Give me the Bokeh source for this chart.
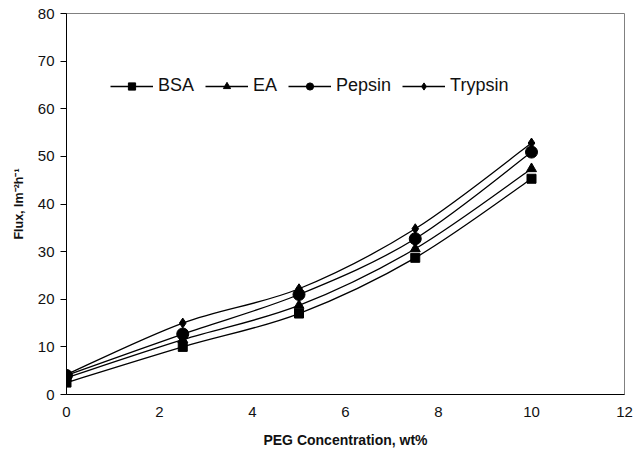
from bokeh.plotting import figure
from bokeh.models import Range1d, Legend, LegendItem, FixedTicker
from bokeh.embed import file_html
from bokeh.resources import INLINE

# ---- data ----
peg = [0, 2.5, 5, 7.5, 10]
bsa = [2.5, 10.0, 17.0, 28.7, 45.3]
ea = [3.5, 11.5, 18.7, 30.6, 47.4]
pepsin = [4.0, 12.7, 21.0, 32.7, 50.9]
trypsin = [4.2, 15.0, 22.2, 34.8, 52.8]
series_names = ["BSA", "EA", "Pepsin", "Trypsin"]
series_values = [bsa, ea, pepsin, trypsin]
markers = ["square", "triangle", "circle", "diamond"]
marker_sizes = [9, 10, 12, 10]
x_ticks = [0, 2, 4, 6, 8, 10, 12]
y_ticks = [0, 10, 20, 30, 40, 50, 60, 70, 80]

FONT = "Liberation Sans"

p = figure(width=635, height=450, output_backend="svg", toolbar_location=None,
           x_range=Range1d(0, 12), y_range=Range1d(0, 80),
           min_border_left=66, min_border_right=11, min_border_top=13, min_border_bottom=56)
p.grid.visible = False
p.outline_line_color = "#808080"
p.outline_line_width = 1
p.background_fill_color = "white"
p.border_fill_color = "white"

for ax in (p.xaxis[0], p.yaxis[0]):
    ax.axis_line_color = "black"
    ax.major_tick_line_color = "black"
    ax.minor_tick_line_color = None
    ax.major_label_text_font = FONT
    ax.major_label_text_font_size = "15px"
    ax.major_label_text_color = "#111111"
    ax.axis_label_text_font = FONT
    ax.axis_label_text_font_style = "bold"
    ax.axis_label_text_color = "#111111"

p.xaxis.ticker = FixedTicker(ticks=x_ticks)
p.yaxis.ticker = FixedTicker(ticks=y_ticks)
p.xaxis.major_tick_out = 0
p.xaxis.major_tick_in = 0
p.xaxis.major_label_standoff = 12
p.yaxis.major_tick_out = 6
p.yaxis.major_tick_in = 0
p.yaxis.major_label_standoff = 6
p.xaxis.axis_label = "PEG Concentration, wt%"
p.xaxis.axis_label_text_font_size = "14px"
p.xaxis.axis_label_standoff = 12
p.yaxis.axis_label = "Flux, lm\u207b\u00b2h\u207b\u00b9"
p.yaxis.axis_label_text_font_size = "12.5px"
p.yaxis.axis_label_standoff = 9


def smooth_segments(xs, ys, t=1.0 / 6.0):
    n = len(xs)
    seg = dict(x0=[], y0=[], x1=[], y1=[], cx0=[], cy0=[], cx1=[], cy1=[])
    for i in range(n - 1):
        xa, ya = xs[i], ys[i]
        xb, yb = xs[i + 1], ys[i + 1]
        xp, yp = (xs[i - 1], ys[i - 1]) if i > 0 else (xa, ya)
        xn, yn = (xs[i + 2], ys[i + 2]) if i + 2 < n else (xb, yb)
        seg["x0"].append(xa); seg["y0"].append(ya)
        seg["x1"].append(xb); seg["y1"].append(yb)
        seg["cx0"].append(xa + (xb - xp) * t); seg["cy0"].append(ya + (yb - yp) * t)
        seg["cx1"].append(xb - (xn - xa) * t); seg["cy1"].append(yb - (yn - ya) * t)
    return seg


items = []
for name, vals, mk, ms in zip(series_names, series_values, markers, marker_sizes):
    s = smooth_segments(peg, vals)
    br = p.bezier(x0=s["x0"], y0=s["y0"], x1=s["x1"], y1=s["y1"],
                  cx0=s["cx0"], cy0=s["cy0"], cx1=s["cx1"], cy1=s["cy1"],
                  line_color="black", line_width=1.3)
    sr = p.scatter(peg, vals, marker=mk, size=ms, fill_color="black", line_color="black")
    items.append(LegendItem(label=name, renderers=[br, sr]))

legend = Legend(items=items, orientation="horizontal", location=(44, 298),
                padding=0, margin=0, spacing=11, glyph_width=43, glyph_height=18,
                label_height=18, label_standoff=5, label_text_font=FONT,
                label_text_font_size="18px", label_text_color="#111111",
                border_line_color=None, background_fill_alpha=0)
p.add_layout(legend)

open("out.html", "w").write(file_html(p, INLINE))
